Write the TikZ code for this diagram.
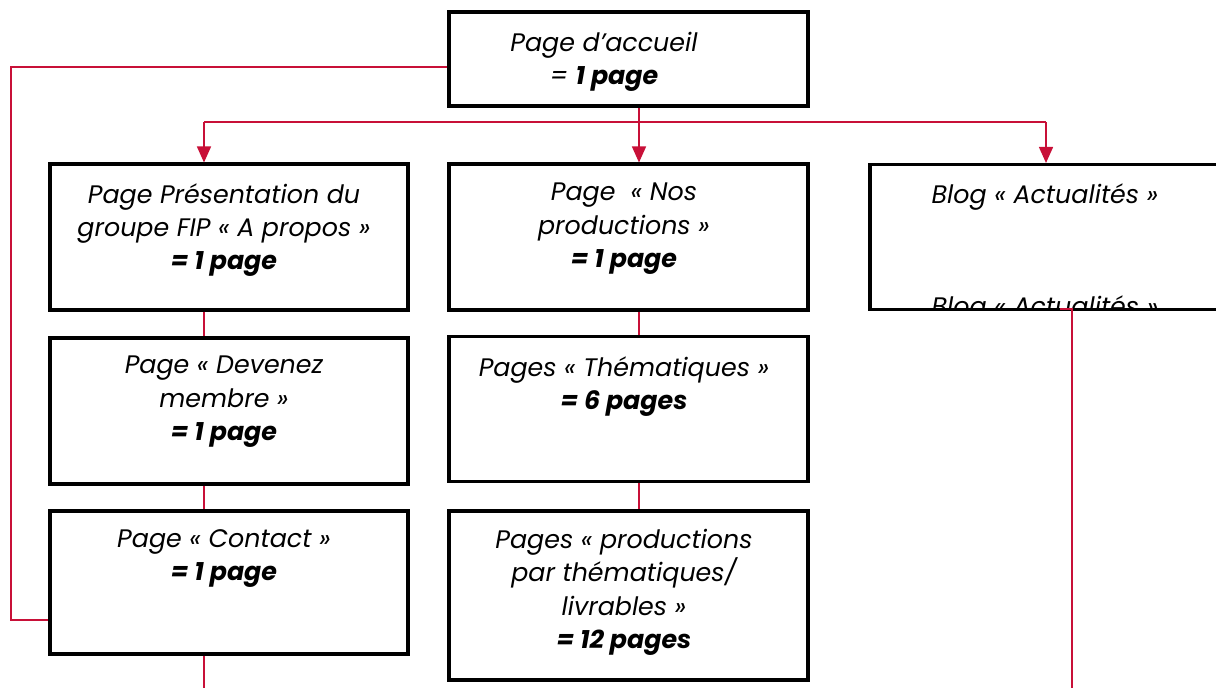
\documentclass[tikz,border=0pt]{standalone}
\usepackage{fontspec}
\setmainfont{Poppins}
\usetikzlibrary{arrows.meta}
\definecolor{linkred}{RGB}{200,16,56}
\tikzset{
  pagebox/.style={draw=black, line width=2.3pt, fill=white, rectangle, inner sep=0pt},
  boxtext/.style={align=center, font=\itshape\fontsize{19}{25}\selectfont, inner sep=0pt, anchor=north},
  link/.style={draw=linkred, line width=1.1pt},
  linkarrow/.style={link, -{Triangle[width=10.5pt,length=12pt]}}
}
\begin{document}
\begin{tikzpicture}[x=0.75pt,y=-0.75pt]
\useasboundingbox (0,0) rectangle (1216,687);
\clip (0,0) rectangle (1216,687);
% boxes
\node[pagebox, minimum width=359*0.75pt, minimum height=94*0.75pt] (home) at (628.5,59) {};
\node[pagebox, minimum width=358*0.75pt, minimum height=146*0.75pt] (pres) at (229,237) {};
\node[pagebox, minimum width=359*0.75pt, minimum height=146*0.75pt] (prod) at (628.5,237) {};
\node[pagebox, minimum width=370*0.75pt, minimum height=145*0.75pt] (blog) at (1055,237) {};
\node[pagebox, minimum width=358*0.75pt, minimum height=146*0.75pt] (memb) at (229,411) {};
\node[pagebox, minimum width=359*0.75pt, minimum height=145*0.75pt] (them) at (628.5,409) {};
\node[pagebox, minimum width=358*0.75pt, minimum height=143*0.75pt] (cont) at (229,582.5) {};
\node[pagebox, minimum width=359*0.75pt, minimum height=169*0.75pt] (livr) at (628.5,595.5) {};
% texts
\node[boxtext] (thome) at (604,32) {Page d’accueil\\= \textbf{1 page}};
\node[boxtext] (tpres) at (224,183) {Page Présentation du\\groupe FIP « A propos »\\\textbf{= 1 page}};
\node[boxtext] (tprod) at (624,183) {Page~~« Nos\\productions »\\\textbf{= 1 page}};
\node[boxtext] (tblog) at (1045,183) {Blog « Actualités »};
\begin{scope}
\clip (blog.north west) ++(2,2) rectangle ([xshift=-2pt,yshift=1.5pt]blog.south east);
\node[boxtext] (tblog2) at (1045,295) {Blog « Actualités »};
\end{scope}
\node[boxtext] (tmemb) at (224,356) {Page « Devenez\\membre »\\\textbf{= 1 page}};
\node[boxtext] (tthem) at (624,356) {Pages « Thématiques »\\\textbf{= 6 pages}};
\node[boxtext] (tcont) at (224,529) {Page « Contact »\\\textbf{= 1 page}};
\node[boxtext] (tlivr) at (624,529) {Pages « productions\\par thématiques/\\livrables »\\\textbf{= 12 pages}};
% connectors
\coordinate (hub) at (639,122);
\coordinate (leftA) at (204,122);
\coordinate (rightA) at (1046,122);
\coordinate (farL1) at (11,67);
\coordinate (farL2) at (11,620);
\coordinate (bot1) at (204,690);
\coordinate (blogtick) at (1060,309);
\coordinate (blogbend) at (1072,309);
\coordinate (bot2) at (1072,690);
\draw[linkarrow] (home.south -| hub) -- (prod.north -| hub);
\draw[link] (leftA) -- (rightA);
\draw[linkarrow] (leftA) -- (pres.north -| leftA);
\draw[linkarrow] (rightA) -- (blog.north -| rightA);
\draw[link] (home.west |- farL1) -- (farL1) -- (farL2) -- (cont.west |- farL2);
\draw[link] (pres.south -| leftA) -- (memb.north -| leftA);
\draw[link] (memb.south -| leftA) -- (cont.north -| leftA);
\draw[link] (cont.south -| leftA) -- (bot1);
\draw[link] (prod.south -| hub) -- (them.north -| hub);
\draw[link] (them.south -| hub) -- (livr.north -| hub);
\draw[link] (blogtick) -- (blogbend) -- (bot2);
\end{tikzpicture}
\end{document}
